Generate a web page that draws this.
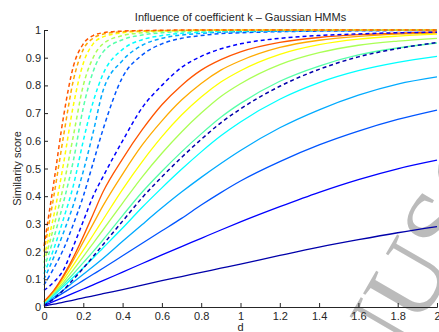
<!DOCTYPE html>
<html>
<head>
<meta charset="utf-8">
<script src="https://cdn.jsdelivr.net/npm/d3@7"></script>
<style>
  html, body { margin: 0; padding: 0; background: #fff; }
  svg { display: block; }
</style>
</head>
<body>
<div id="chart"></div>
<script>
// d values the curves were sampled at
const dValues = [0, 0.05, 0.1, 0.15, 0.2, 0.25, 0.3, 0.4, 0.5, 0.6, 0.7, 0.8, 0.9, 1.0, 1.2, 1.4, 1.6, 1.8, 2.0];

// solid curves, low k -> high k
const solid1 = [0.003, 0.01, 0.018, 0.025, 0.033, 0.04, 0.048, 0.063, 0.079, 0.095, 0.11, 0.125, 0.14, 0.155, 0.186, 0.216, 0.243, 0.268, 0.29];
const solid2 = [0.005, 0.02, 0.035, 0.05, 0.065, 0.08, 0.095, 0.126, 0.157, 0.188, 0.218, 0.248, 0.278, 0.307, 0.362, 0.414, 0.46, 0.499, 0.53];
const solid3 = [0.008, 0.03, 0.052, 0.074, 0.096, 0.118, 0.14, 0.185, 0.23, 0.275, 0.32, 0.368, 0.413, 0.455, 0.525, 0.585, 0.635, 0.677, 0.711];
const solid4 = [0.01, 0.035, 0.062, 0.09, 0.118, 0.146, 0.175, 0.237, 0.298, 0.358, 0.415, 0.468, 0.518, 0.565, 0.647, 0.712, 0.765, 0.805, 0.831];
const solid5 = [0.012, 0.042, 0.075, 0.108, 0.142, 0.177, 0.213, 0.285, 0.36, 0.43, 0.497, 0.56, 0.618, 0.668, 0.75, 0.81, 0.853, 0.883, 0.905];
const solid6 = [0.015, 0.048, 0.082, 0.12, 0.16, 0.2, 0.242, 0.33, 0.415, 0.49, 0.56, 0.625, 0.685, 0.735, 0.815, 0.87, 0.91, 0.935, 0.953];
const solid7 = [0.017, 0.053, 0.09, 0.135, 0.182, 0.23, 0.278, 0.375, 0.47, 0.555, 0.632, 0.7, 0.76, 0.806, 0.875, 0.918, 0.945, 0.96, 0.97];
const solid8 = [0.018, 0.057, 0.1, 0.152, 0.205, 0.26, 0.315, 0.425, 0.525, 0.615, 0.693, 0.758, 0.812, 0.853, 0.912, 0.947, 0.967, 0.978, 0.985];
const solid9 = [0.019, 0.058, 0.11, 0.17, 0.235, 0.3, 0.365, 0.48, 0.585, 0.672, 0.747, 0.807, 0.855, 0.889, 0.937, 0.963, 0.977, 0.985, 0.99];
const solid10 = [0.02, 0.06, 0.115, 0.18, 0.255, 0.335, 0.415, 0.535, 0.64, 0.73, 0.8, 0.855, 0.893, 0.921, 0.955, 0.973, 0.983, 0.989, 0.993];

// dashed curves
const dashed1 = [0.005, 0.03, 0.062, 0.1, 0.14, 0.182, 0.225, 0.31, 0.395, 0.47, 0.54, 0.605, 0.665, 0.715, 0.797, 0.858, 0.903, 0.933, 0.955];
const dashed2 = [0.06, 0.09, 0.135, 0.22, 0.31, 0.4, 0.47, 0.6, 0.72, 0.8, 0.865, 0.905, 0.932, 0.95, 0.97, 0.98, 0.986, 0.99, 0.992];
const dashed3 = [0.08, 0.14, 0.21, 0.3, 0.4, 0.52, 0.64, 0.83, 0.91, 0.95, 0.97, 0.98, 0.987, 0.99, 0.994, 0.996, 0.997, 0.998, 0.999];
const dashed4 = [0.1, 0.18, 0.27, 0.37, 0.49, 0.63, 0.78, 0.89, 0.945, 0.97, 0.982, 0.988, 0.992, 0.994, 0.996, 0.997, 0.998, 0.999, 0.999];
const dashed5 = [0.12, 0.21, 0.32, 0.44, 0.6, 0.74, 0.84, 0.93, 0.965, 0.98, 0.988, 0.992, 0.995, 0.996, 0.998, 0.999, 0.999, 1, 1];
const dashed6 = [0.14, 0.25, 0.38, 0.53, 0.72, 0.85, 0.92, 0.965, 0.982, 0.99, 0.994, 0.996, 0.997, 0.998, 0.999, 1, 1, 1, 1];
const dashed7 = [0.16, 0.29, 0.44, 0.62, 0.8, 0.9, 0.95, 0.98, 0.99, 0.995, 0.997, 0.998, 0.999, 1, 1, 1, 1, 1, 1];
const dashed8 = [0.18, 0.33, 0.52, 0.73, 0.88, 0.95, 0.975, 0.99, 0.995, 0.997, 0.998, 0.999, 1, 1, 1, 1, 1, 1, 1];
const dashed9 = [0.2, 0.4, 0.62, 0.82, 0.93, 0.97, 0.985, 0.994, 0.997, 0.998, 0.999, 1, 1, 1, 1, 1, 1, 1, 1];
const dashed10 = [0.22, 0.45, 0.69, 0.87, 0.95, 0.98, 0.99, 0.996, 0.998, 0.999, 1, 1, 1, 1, 1, 1, 1, 1, 1];

const solidSeries = [solid1, solid2, solid3, solid4, solid5, solid6, solid7, solid8, solid9, solid10];
const dashedSeries = [dashed1, dashed2, dashed3, dashed4, dashed5, dashed6, dashed7, dashed8, dashed9, dashed10];

// jet(10)
const jetColors = ["#0000aa", "#0000ff", "#0055ff", "#00aaff", "#00ffff", "#55ffaa", "#aaff55", "#ffff00", "#ffaa00", "#ff5500"];

const xTicks = [0, 0.2, 0.4, 0.6, 0.8, 1, 1.2, 1.4, 1.6, 1.8, 2];
const yTicks = [0, 0.1, 0.2, 0.3, 0.4, 0.5, 0.6, 0.7, 0.8, 0.9, 1];

const titleText = "Influence of coefficient k \u2013 Gaussian HMMs";
const xLabel = "d";
const yLabel = "Similarity score";

const width = 439;
const height = 332;
const margin = { top: 30, right: 2, bottom: 25, left: 44 };
const font = "'Liberation Sans', Arial, Helvetica, sans-serif";

const svg = d3
  .select("#chart")
  .append("svg")
  .attr("width", width)
  .attr("height", height);

const x = d3
  .scaleLinear()
  .domain([0, 2])
  .range([margin.left, width - margin.right]);
const y = d3
  .scaleLinear()
  .domain([0, 1])
  .range([height - margin.bottom, margin.top]);

const line = d3
  .line()
  .x((d, i) => x(dValues[i]))
  .y((d) => y(d))
  .curve(d3.curveMonotoneX);

// Faint watermark on the page, only partly in view (sits under the curves)
svg
  .append("text")
  .attr("transform", "translate(302,530) rotate(-60)")
  .style("font-family", "'Liberation Serif', 'Times New Roman', serif")
  .style("font-size", "100px")
  .attr("fill", "#b4b4b4")
  .attr("fill-opacity", 0.9)
  .text("MANUSCRIPT");

// Solid lines first, dashed on top
svg
  .append("g")
  .attr("fill", "none")
  .attr("stroke-width", 1.3)
  .selectAll("path")
  .data(solidSeries)
  .join("path")
  .attr("stroke", (d, i) => jetColors[i])
  .attr("d", line);

svg
  .append("g")
  .attr("fill", "none")
  .attr("stroke-width", 1.5)
  .attr("stroke-dasharray", "4,3")
  .selectAll("path")
  .data(dashedSeries)
  .join("path")
  .attr("stroke", (d, i) => jetColors[i])
  .attr("d", line);

// Axes (ticks inside, no box)
const xAxis = d3
  .axisBottom(x)
  .tickValues(xTicks)
  .tickSize(-4)
  .tickPadding(5)
  .tickFormat(d3.format("~g"));
const yAxis = d3
  .axisLeft(y)
  .tickValues(yTicks)
  .tickSize(-4)
  .tickPadding(3)
  .tickFormat(d3.format("~g"));

const gx = svg
  .append("g")
  .attr("transform", `translate(0,${height - margin.bottom})`)
  .call(xAxis);
const gy = svg
  .append("g")
  .attr("transform", `translate(${margin.left},0)`)
  .call(yAxis);

[gx, gy].forEach((g) => {
  g.select(".domain").attr("stroke", "#262626").attr("stroke-width", 1);
  g.selectAll(".tick line").attr("stroke", "#262626");
  g.selectAll(".tick text")
    .attr("fill", "#262626")
    .style("font-family", font)
    .style("font-size", "11px");
});

// Title and labels
svg
  .append("text")
  .attr("x", (margin.left + width - margin.right) / 2)
  .attr("y", 21)
  .attr("text-anchor", "middle")
  .style("font-family", font)
  .style("font-size", "11px")
  .attr("fill", "#262626")
  .text(titleText);

svg
  .append("text")
  .attr("x", (margin.left + width - margin.right) / 2)
  .attr("y", 331)
  .attr("text-anchor", "middle")
  .style("font-family", font)
  .style("font-size", "11px")
  .attr("fill", "#262626")
  .text(xLabel);

svg
  .append("text")
  .attr("transform", `translate(21,${(margin.top + height - margin.bottom) / 2}) rotate(-90)`)
  .attr("text-anchor", "middle")
  .style("font-family", font)
  .style("font-size", "11px")
  .attr("fill", "#262626")
  .text(yLabel);
</script>
</body>
</html>
